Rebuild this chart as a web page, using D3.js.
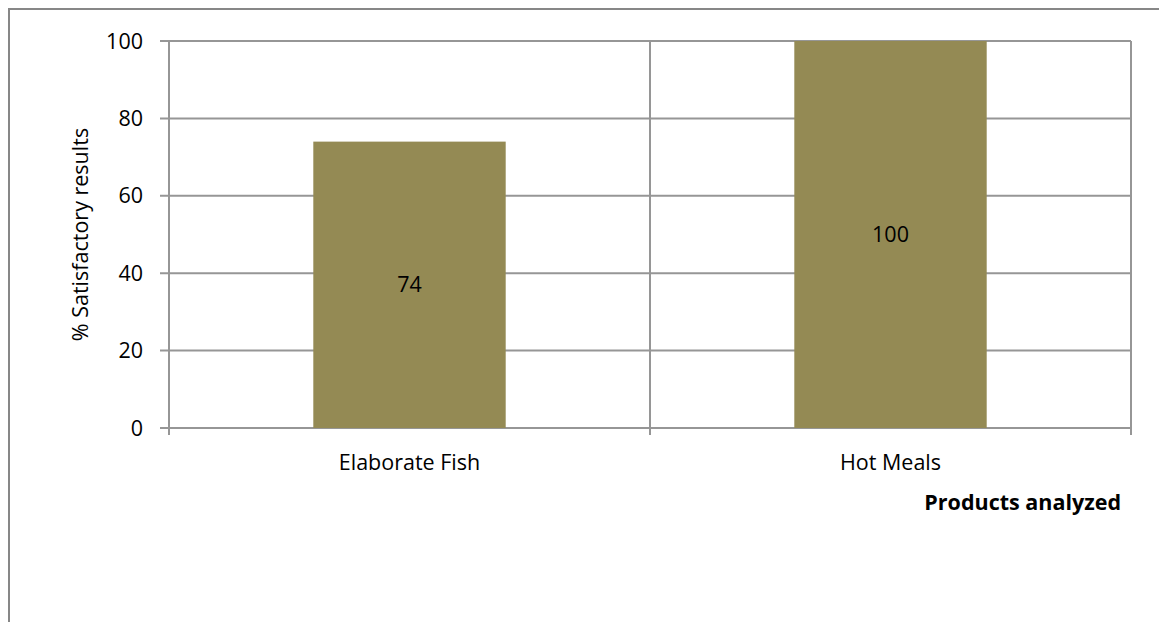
<!DOCTYPE html>
<html>
<head>
<meta charset="utf-8">
<script src="https://cdn.jsdelivr.net/npm/d3@7"></script>
<style>
  html, body { margin: 0; padding: 0; background: #fff; }
  svg { display: block; font-family: "Open Sans", Lato, sans-serif; }
</style>
</head>
<body>
<svg id="chart" width="1159" height="622"></svg>
<script>
const categories = ['Elaborate Fish', 'Hot Meals'];
const values = [74, 100];
const yTicks = [0, 20, 40, 60, 80, 100];

const svg = d3.select('#chart');
const width = 1159;
const height = 622;
const margin = { top: 41, right: 28, bottom: 194, left: 169 };
const plotW = width - margin.left - margin.right;
const plotH = height - margin.top - margin.bottom;
const gridColor = '#969696';
const fontSize = 21.5;

// outer chart frame (runs off the right and bottom edge)
svg.append('rect')
  .attr('x', 9).attr('y', 9)
  .attr('width', width + 20).attr('height', height + 20)
  .attr('fill', 'none')
  .attr('stroke', '#878787')
  .attr('stroke-width', 2);

const g = svg.append('g').attr('transform', `translate(${margin.left},${margin.top})`);

const x = d3.scaleBand().domain(categories).range([0, plotW]).paddingInner(0).paddingOuter(0);
const y = d3.scaleLinear().domain([0, 100]).range([plotH, 0]);

// horizontal grid
g.append('g')
  .selectAll('line')
  .data(yTicks)
  .join('line')
  .attr('x1', -9).attr('x2', plotW)
  .attr('y1', (d) => y(d)).attr('y2', (d) => y(d))
  .attr('stroke', gridColor)
  .attr('stroke-width', 2);

// vertical grid at category boundaries
const bounds = categories.map((c) => x(c)).concat([plotW]);
g.append('g')
  .selectAll('line')
  .data(bounds)
  .join('line')
  .attr('x1', (d) => d).attr('x2', (d) => d)
  .attr('y1', 0).attr('y2', plotH + 7)
  .attr('stroke', gridColor)
  .attr('stroke-width', 2);

// bars
const barW = x.bandwidth() * 0.4;
g.append('g')
  .selectAll('rect')
  .data(values)
  .join('rect')
  .attr('x', (d, i) => x(categories[i]) + (x.bandwidth() - barW) / 2)
  .attr('y', (d) => y(d))
  .attr('width', barW)
  .attr('height', (d) => plotH - y(d))
  .attr('fill', '#948A54');

// bar labels
g.append('g')
  .selectAll('text')
  .data(values)
  .join('text')
  .attr('x', (d, i) => x(categories[i]) + x.bandwidth() / 2)
  .attr('y', (d) => (y(d) + plotH) / 2)
  .attr('dy', '0.35em')
  .attr('text-anchor', 'middle')
  .attr('font-size', fontSize)
  .attr('fill', '#000')
  .text((d) => d);

// y tick labels
g.append('g')
  .selectAll('text')
  .data(yTicks)
  .join('text')
  .attr('x', -26)
  .attr('y', (d) => y(d))
  .attr('dy', '0.35em')
  .attr('text-anchor', 'end')
  .attr('font-size', fontSize)
  .text((d) => d);

// category labels
g.append('g')
  .selectAll('text')
  .data(categories)
  .join('text')
  .attr('x', (d) => x(d) + x.bandwidth() / 2)
  .attr('y', plotH + 34)
  .attr('dy', '0.35em')
  .attr('text-anchor', 'middle')
  .attr('font-size', fontSize)
  .text((d) => d);

// axis titles
svg.append('text')
  .attr('transform', `translate(80,${margin.top + plotH / 2}) rotate(-90)`)
  .attr('dy', '0.35em')
  .attr('text-anchor', 'middle')
  .attr('font-size', fontSize)
  .text('% Satisfactory results');

svg.append('text')
  .attr('x', 1121)
  .attr('y', 502)
  .attr('dy', '0.35em')
  .attr('text-anchor', 'end')
  .attr('font-size', fontSize)
  .attr('font-weight', 'bold')
  .text('Products analyzed');
</script>
</body>
</html>
